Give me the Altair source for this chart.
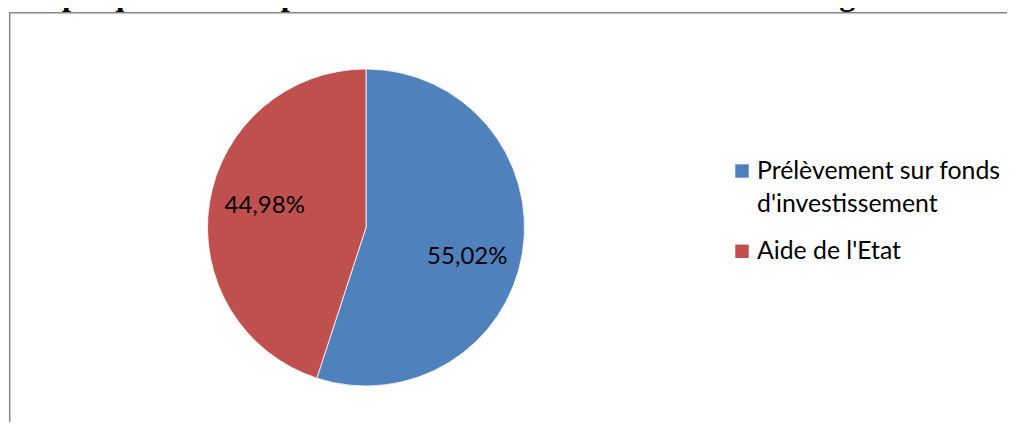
import altair as alt
import pandas as pd

# ---- data ----
categories = ["Prélèvement sur fonds d'investissement", "Aide de l'Etat"]
shares = [55.02, 44.98]
share_labels = ["55,02%", "44,98%"]
legend_lines = [["Prélèvement sur fonds", "d'investissement"], ["Aide de l'Etat"]]
colors = ["#4F81BD", "#C0504D"]
title_text = "Graphique 65: Composition des recettes d'investissement à Agboville"

df = pd.DataFrame({
    "cat": categories,
    "share": shares,
    "label": share_labels,
    "order": list(range(len(categories))),
})
leg = pd.DataFrame({"cat": categories, "lines": legend_lines})
title_df = pd.DataFrame({"t": [title_text]})

W, H = 999, 414
CX, CY, R = 358, 219.5, 158.5

color = alt.Color("cat:N", scale=alt.Scale(domain=categories, range=colors), legend=None)

base = alt.Chart(df).encode(
    theta=alt.Theta("share:Q", stack=True),
    order=alt.Order("order:Q"),
    x=alt.value(CX),
    y=alt.value(CY),
)

pie = base.mark_arc(outerRadius=R, stroke="white", strokeWidth=0.8).encode(color=color)

labels = base.mark_text(
    radius=104.5, thetaOffset=0.09, font="Lato", fontSize=24, color="black",
    align="center", baseline="middle", dy=4
).encode(text="label:N")

leg_y = alt.Y(
    "cat:N",
    scale=alt.Scale(type="point", domain=categories, range=[163, 243.3], padding=0),
    axis=None,
)

leg_sq = alt.Chart(leg).mark_square(size=180, opacity=1).encode(
    x=alt.value(734), y=leg_y, color=color
)
leg_txt = alt.Chart(leg).mark_text(
    font="Lato", fontSize=24.8, align="left", baseline="alphabetic", dy=8, lineHeight=33, color="black"
).encode(x=alt.value(749), y=leg_y, text="lines")

# chart title (its upper part lies above the page, as in the reference)
title = alt.Chart(title_df).mark_text(
    font="Liberation Serif", fontSize=32, fontWeight="bold", color="black",
    align="left", baseline="alphabetic"
).encode(x=alt.value(-1), y=alt.value(-3), text="t:N")

frame = alt.Chart(pd.DataFrame({"a": [0]})).mark_rect(
    fill=None, stroke="#878787", strokeWidth=1.5
).encode(x=alt.value(1.7), y=alt.value(4.8), x2=alt.value(1200), y2=alt.value(1200))

chart = alt.layer(frame, title, pie, labels, leg_sq, leg_txt).properties(
    width=W,
    height=H,
    autosize=alt.AutoSizeParams(type="none"),
    padding=0,
    background="white",
).configure_view(stroke=None)

chart.save("out.html", embed_options={"renderer": "svg", "actions": False})
